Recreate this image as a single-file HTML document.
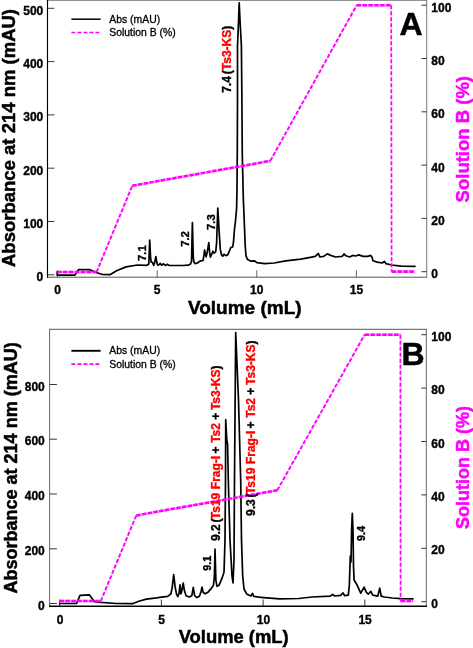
<!DOCTYPE html>
<html><head><meta charset="utf-8"><title>Chromatograms</title>
<style>
html,body{margin:0;padding:0;background:#fff;}
body{width:473px;height:648px;overflow:hidden;font-family:"Liberation Sans",sans-serif;}
svg{display:block;font-family:"Liberation Sans",sans-serif;will-change:transform;}
.tk{font-size:12px;font-weight:bold;fill:#000;stroke:#000;stroke-width:0.35;}
.lg{font-size:10.4px;fill:#000;stroke:#000;stroke-width:0.3;}
.pl{font-size:32px;font-weight:bold;fill:#000;stroke:#000;stroke-width:0.5;}
.ti{font-size:18.5px;font-weight:bold;stroke-width:0.5;}
.tx{font-size:19px;}
.pk{font-size:12px;font-weight:bold;fill:#000;white-space:pre;word-spacing:-0.6px;stroke-width:0.35;}
.pk2{font-size:11.3px;}
.pk3{font-size:10.8px;}
.mg{fill:none;stroke:#f0f;stroke-width:1.8;stroke-dasharray:4 2;stroke-linejoin:round;}
.tr{fill:none;stroke:#000;stroke-width:1.7;stroke-linejoin:round;stroke-linecap:round;}
</style></head><body>
<svg width="473" height="648" viewBox="0 0 473 648" xml:space="preserve">
<rect width="473" height="648" fill="#fff"/>
<line x1="47" y1="0.4" x2="427" y2="0.4" stroke="#777" stroke-width="0.9"/>
<line x1="47" y1="277.2" x2="427" y2="277.2" stroke="#555" stroke-width="1"/>
<line x1="426.7" y1="0" x2="426.7" y2="277.7" stroke="#777" stroke-width="1"/>
<line x1="47.5" y1="0" x2="47.5" y2="277.7" stroke="#000" stroke-width="1.15"/>
<line x1="47.5" y1="8.3" x2="54.4" y2="8.3" stroke="#222" stroke-width="0.9"/>
<text x="43.3" y="14.7" class="tk" text-anchor="end">500</text>
<line x1="47.5" y1="61.6" x2="54.4" y2="61.6" stroke="#222" stroke-width="0.9"/>
<text x="43.3" y="68.0" class="tk" text-anchor="end">400</text>
<line x1="47.5" y1="114.9" x2="54.4" y2="114.9" stroke="#222" stroke-width="0.9"/>
<text x="43.3" y="121.3" class="tk" text-anchor="end">300</text>
<line x1="47.5" y1="168.2" x2="54.4" y2="168.2" stroke="#222" stroke-width="0.9"/>
<text x="43.3" y="174.6" class="tk" text-anchor="end">200</text>
<line x1="47.5" y1="221.5" x2="54.4" y2="221.5" stroke="#222" stroke-width="0.9"/>
<text x="43.3" y="227.9" class="tk" text-anchor="end">100</text>
<line x1="47.5" y1="274.8" x2="54.4" y2="274.8" stroke="#222" stroke-width="0.9"/>
<text x="43.3" y="281.2" class="tk" text-anchor="end">0</text>
<line x1="421.5" y1="5.2" x2="426.7" y2="5.2" stroke="#222" stroke-width="0.9"/>
<text x="431.3" y="12.0" class="tk">100</text>
<line x1="421.5" y1="58.5" x2="426.7" y2="58.5" stroke="#222" stroke-width="0.9"/>
<text x="431.3" y="65.0" class="tk">80</text>
<line x1="421.5" y1="111.8" x2="426.7" y2="111.8" stroke="#222" stroke-width="0.9"/>
<text x="431.3" y="118.3" class="tk">60</text>
<line x1="421.5" y1="165.1" x2="426.7" y2="165.1" stroke="#222" stroke-width="0.9"/>
<text x="431.3" y="171.6" class="tk">40</text>
<line x1="421.5" y1="218.4" x2="426.7" y2="218.4" stroke="#222" stroke-width="0.9"/>
<text x="431.3" y="224.9" class="tk">20</text>
<line x1="421.5" y1="271.7" x2="426.7" y2="271.7" stroke="#222" stroke-width="0.9"/>
<text x="431.3" y="278.2" class="tk">0</text>
<line x1="57.5" y1="270.3" x2="57.5" y2="277.4" stroke="#555" stroke-width="0.9"/>
<text x="57.5" y="294.2" class="tk" text-anchor="middle">0</text>
<line x1="157.2" y1="270.3" x2="157.2" y2="277.4" stroke="#555" stroke-width="0.9"/>
<text x="157.2" y="294.2" class="tk" text-anchor="middle">5</text>
<line x1="256.8" y1="270.3" x2="256.8" y2="277.4" stroke="#555" stroke-width="0.9"/>
<text x="256.8" y="294.2" class="tk" text-anchor="middle">10</text>
<line x1="356.4" y1="270.3" x2="356.4" y2="277.4" stroke="#555" stroke-width="0.9"/>
<text x="356.4" y="294.2" class="tk" text-anchor="middle">15</text>
<line x1="49" y1="329.3" x2="426.7" y2="329.3" stroke="#555" stroke-width="1"/>
<line x1="49.6" y1="329" x2="49.6" y2="606.5" stroke="#666" stroke-width="1"/>
<line x1="426.3" y1="329" x2="426.3" y2="606.8" stroke="#666" stroke-width="1"/>
<line x1="49" y1="606.2" x2="427" y2="606.2" stroke="#000" stroke-width="1.4"/>
<line x1="49.6" y1="384.5" x2="56.9" y2="384.5" stroke="#222" stroke-width="0.9"/>
<text x="44.8" y="390.5" class="tk" text-anchor="end">800</text>
<line x1="49.6" y1="439.2" x2="56.9" y2="439.2" stroke="#222" stroke-width="0.9"/>
<text x="44.8" y="445.2" class="tk" text-anchor="end">600</text>
<line x1="49.6" y1="494.0" x2="56.9" y2="494.0" stroke="#222" stroke-width="0.9"/>
<text x="44.8" y="500.0" class="tk" text-anchor="end">400</text>
<line x1="49.6" y1="548.8" x2="56.9" y2="548.8" stroke="#222" stroke-width="0.9"/>
<text x="44.8" y="554.8" class="tk" text-anchor="end">200</text>
<line x1="49.6" y1="603.5" x2="56.9" y2="603.5" stroke="#222" stroke-width="0.9"/>
<text x="44.8" y="609.5" class="tk" text-anchor="end">0</text>
<line x1="421.3" y1="334.7" x2="426.3" y2="334.7" stroke="#222" stroke-width="0.9"/>
<text x="431.3" y="340.7" class="tk">100</text>
<line x1="421.3" y1="388.1" x2="426.3" y2="388.1" stroke="#222" stroke-width="0.9"/>
<text x="431.3" y="394.1" class="tk">80</text>
<line x1="421.3" y1="441.5" x2="426.3" y2="441.5" stroke="#222" stroke-width="0.9"/>
<text x="431.3" y="447.5" class="tk">60</text>
<line x1="421.3" y1="494.9" x2="426.3" y2="494.9" stroke="#222" stroke-width="0.9"/>
<text x="431.3" y="500.9" class="tk">40</text>
<line x1="421.3" y1="548.3" x2="426.3" y2="548.3" stroke="#222" stroke-width="0.9"/>
<text x="431.3" y="554.3" class="tk">20</text>
<line x1="421.3" y1="601.7" x2="426.3" y2="601.7" stroke="#222" stroke-width="0.9"/>
<text x="431.3" y="607.7" class="tk">0</text>
<line x1="59.7" y1="599.5" x2="59.7" y2="606.2" stroke="#222" stroke-width="0.9"/>
<text x="60.0" y="624" class="tk" text-anchor="middle">0</text>
<line x1="161.4" y1="599.5" x2="161.4" y2="606.2" stroke="#222" stroke-width="0.9"/>
<text x="161.7" y="624" class="tk" text-anchor="middle">5</text>
<line x1="263.1" y1="599.5" x2="263.1" y2="606.2" stroke="#222" stroke-width="0.9"/>
<text x="263.4" y="624" class="tk" text-anchor="middle">10</text>
<line x1="364.8" y1="599.5" x2="364.8" y2="606.2" stroke="#222" stroke-width="0.9"/>
<text x="365.1" y="624" class="tk" text-anchor="middle">15</text>
<polyline points="57.2,271.5 57.2,275.2 74.7,275.2 78.5,269.7 90.0,269.7 95.7,272.2 102.3,274.5 110.0,274.7 116.6,270.7 126.0,266.9 137.5,265.0 146.9,265.3 148.8,264.0 149.7,240.2 150.6,258.0 151.2,262.0 152.4,262.4 153.7,265.3 154.6,263.0 155.2,260.0 155.9,256.5 156.6,261.0 157.2,263.8 158.0,265.3 159.0,264.6 160.3,263.4 161.6,265.2 163.5,263.8 165.4,265.4 167.3,264.3 169.2,265.5 183.0,265.5 188.2,265.2 190.5,264.0 191.5,261.5 192.4,222.6 193.3,258.0 193.9,262.0 195.0,263.6 197.5,263.0 199.9,261.1 203.0,260.5 203.9,255.6 204.6,250.0 205.5,254.3 206.1,256.8 207.3,251.9 208.8,242.6 209.6,251.9 210.4,257.2 211.7,254.3 212.9,251.2 214.1,253.1 215.7,251.9 216.6,243.2 217.8,208.0 219.1,230.9 220.3,249.4 221.5,254.9 222.8,256.2 224.0,254.3 225.9,255.6 227.7,254.9 229.6,250.6 230.8,247.5 232.7,246.9 233.5,242.0 234.4,230.0 235.5,220.9 236.6,208.5 237.0,190.0 237.3,150.0 237.5,100.0 237.5,46.0 238.5,22.0 239.2,2.9 240.1,22.0 241.4,46.0 241.9,100.0 242.3,155.0 243.3,198.0 244.6,230.0 245.2,246.0 246.0,255.8 247.6,259.6 250.5,261.1 254.3,260.8 257.1,262.7 264.7,263.6 274.2,263.0 285.7,260.8 300.9,259.2 310.4,257.3 315.2,256.4 318.4,253.5 319.9,257.0 323.7,256.4 327.3,253.9 330.7,255.4 335.5,257.0 342.1,256.4 344.0,253.9 345.9,255.8 349.7,257.0 352.6,255.4 355.5,256.0 358.9,254.9 363.0,256.4 367.8,256.4 370.7,255.4 372.0,257.3 373.0,260.8 377.3,262.1 382.1,263.0 384.4,261.5 385.9,263.6 391.6,265.0 401.1,266.1 415.0,266.3" class="tr"/>
<line x1="57.2" y1="272" x2="96.6" y2="272" stroke="#f0f" stroke-opacity="0.4" stroke-width="2.7"/>
<line x1="57.2" y1="272" x2="96.6" y2="272" stroke="#f0f" stroke-width="2.7" stroke-dasharray="4.4 1.5"/>
<line x1="96.6" y1="272" x2="132.3" y2="185.7" stroke="#f0f" stroke-opacity="0.15" stroke-width="1.9"/>
<line x1="96.6" y1="272" x2="132.3" y2="185.7" stroke="#f0f" stroke-width="1.9" stroke-dasharray="4 1.9"/>
<line x1="132.3" y1="185.7" x2="270.3" y2="160.9" stroke="#f0f" stroke-opacity="0.4" stroke-width="2.5"/>
<line x1="132.3" y1="185.7" x2="270.3" y2="160.9" stroke="#f0f" stroke-width="2.5" stroke-dasharray="4.3 1.5"/>
<line x1="270.3" y1="160.9" x2="356.6" y2="5.3" stroke="#f0f" stroke-opacity="0.15" stroke-width="1.9"/>
<line x1="270.3" y1="160.9" x2="356.6" y2="5.3" stroke="#f0f" stroke-width="1.9" stroke-dasharray="4 1.9"/>
<line x1="356.6" y1="5.3" x2="391.2" y2="5.3" stroke="#f0f" stroke-opacity="0.4" stroke-width="2.6"/>
<line x1="356.6" y1="5.3" x2="391.2" y2="5.3" stroke="#f0f" stroke-width="2.6" stroke-dasharray="4.4 1.5"/>
<line x1="391.2" y1="5.3" x2="391.6" y2="271.6" stroke="#f0f" stroke-opacity="0.12" stroke-width="1.7"/>
<line x1="391.2" y1="5.3" x2="391.6" y2="271.6" stroke="#f0f" stroke-width="1.7" stroke-dasharray="4 2"/>
<line x1="391.6" y1="271.6" x2="414.5" y2="271.6" stroke="#f0f" stroke-opacity="0.4" stroke-width="2.7"/>
<line x1="391.6" y1="271.6" x2="414.5" y2="271.6" stroke="#f0f" stroke-width="2.7" stroke-dasharray="4.4 1.5"/>
<polyline points="59.6,603.5 76.6,603.5 80.0,595.3 89.3,594.8 94.4,601.7 100.8,602.4 116.0,603.5 132.5,603.7 138.8,601.2 146.4,599.1 156.6,597.9 161.3,597.2 167.7,596.3 170.9,593.8 172.1,588.1 173.7,574.5 175.1,586.8 176.6,594.4 177.8,596.7 179.1,593.1 180.0,584.9 180.9,593.8 181.6,591.9 183.2,583.0 184.4,590.6 186.1,595.7 189.3,597.0 191.8,595.7 193.3,587.4 194.6,595.7 196.9,597.6 199.4,596.3 200.9,591.9 202.0,587.1 203.2,592.5 205.1,593.8 208.3,591.9 211.5,588.1 213.4,585.5 214.4,576.2 215.0,549.2 215.9,580.3 217.0,586.3 219.0,585.3 222.0,578.2 224.0,572.2 225.0,540.0 225.5,480.0 225.7,419.7 226.8,440.0 227.6,444.7 228.3,480.0 230.0,540.0 232.0,576.0 233.0,583.0 234.0,560.0 234.5,480.0 235.7,332.6 238.5,400.0 240.7,480.0 241.5,540.0 242.7,576.0 244.0,589.0 247.0,594.3 251.0,596.0 252.5,593.3 253.7,596.3 259.0,597.2 263.6,597.6 279.7,598.9 298.8,598.5 312.1,597.0 330.2,596.2 332.6,594.3 334.5,596.0 340.7,595.4 343.0,592.8 344.5,595.7 348.3,595.1 349.3,585.6 350.3,556.0 351.0,562.0 351.6,530.0 352.3,513.3 353.0,530.0 353.5,566.0 354.1,580.0 356.9,584.7 360.7,593.2 364.1,587.1 366.4,592.3 368.3,594.2 370.8,591.3 372.7,595.1 377.8,596.1 379.7,588.1 381.2,596.1 384.5,597.0 392.1,598.0 400.6,598.6 413.0,598.9" class="tr"/>
<line x1="59.6" y1="601" x2="100.8" y2="601" stroke="#f0f" stroke-opacity="0.4" stroke-width="2.7"/>
<line x1="59.6" y1="601" x2="100.8" y2="601" stroke="#f0f" stroke-width="2.7" stroke-dasharray="4.4 1.5"/>
<line x1="100.8" y1="601" x2="136.3" y2="515.4" stroke="#f0f" stroke-opacity="0.15" stroke-width="1.9"/>
<line x1="100.8" y1="601" x2="136.3" y2="515.4" stroke="#f0f" stroke-width="1.9" stroke-dasharray="4 1.9"/>
<line x1="136.3" y1="515.4" x2="277.3" y2="490.3" stroke="#f0f" stroke-opacity="0.4" stroke-width="2.5"/>
<line x1="136.3" y1="515.4" x2="277.3" y2="490.3" stroke="#f0f" stroke-width="2.5" stroke-dasharray="4.3 1.5"/>
<line x1="277.3" y1="490.3" x2="364.6" y2="334.7" stroke="#f0f" stroke-opacity="0.15" stroke-width="1.9"/>
<line x1="277.3" y1="490.3" x2="364.6" y2="334.7" stroke="#f0f" stroke-width="1.9" stroke-dasharray="4 1.9"/>
<line x1="364.6" y1="334.7" x2="400.4" y2="334.7" stroke="#f0f" stroke-opacity="0.4" stroke-width="2.6"/>
<line x1="364.6" y1="334.7" x2="400.4" y2="334.7" stroke="#f0f" stroke-width="2.6" stroke-dasharray="4.4 1.5"/>
<line x1="400.4" y1="334.7" x2="400.6" y2="601" stroke="#f0f" stroke-opacity="0.12" stroke-width="1.7"/>
<line x1="400.4" y1="334.7" x2="400.6" y2="601" stroke="#f0f" stroke-width="1.7" stroke-dasharray="4 2"/>
<line x1="400.6" y1="601" x2="413" y2="601" stroke="#f0f" stroke-opacity="0.4" stroke-width="2.7"/>
<line x1="400.6" y1="601" x2="413" y2="601" stroke="#f0f" stroke-width="2.7" stroke-dasharray="4.4 1.5"/>
<line x1="71.4" y1="19.2" x2="100.6" y2="19.2" stroke="#000" stroke-width="1.5"/>
<line x1="71.4" y1="32.5" x2="100.6" y2="32.5" stroke="#f0f" stroke-width="1.6" stroke-dasharray="4 2"/>
<text x="109.3" y="22.8" class="lg">Abs (mAU)</text>
<text x="109.3" y="36.1" class="lg">Solution B (%)</text>
<line x1="71.4" y1="350.8" x2="100.6" y2="350.8" stroke="#000" stroke-width="1.9"/>
<line x1="71.4" y1="364.1" x2="100.6" y2="364.1" stroke="#f0f" stroke-width="1.6" stroke-dasharray="4 2"/>
<text x="109.3" y="354.4" class="lg">Abs (mAU)</text>
<text x="109.3" y="367.7" class="lg">Solution B (%)</text>
<text x="399.4" y="35" class="pl">A</text>
<text x="401.6" y="365.2" class="pl">B</text>
<text x="244.8" y="313.7" class="ti tx" text-anchor="middle" stroke="#000">Volume (mL)</text>
<text x="233.7" y="643.4" class="ti" style="font-size:18.4px" text-anchor="middle" stroke="#000">Volume (mL)</text>
<text transform="translate(15,138) rotate(-90)" class="ti" text-anchor="middle" stroke="#000">Absorbance at 214 nm (mAU)</text>
<text transform="translate(17,467.9) rotate(-90)" class="ti" style="font-size:18px" text-anchor="middle" stroke="#000">Absorbance at 214 nm (mAU)</text>
<text transform="translate(469,139.2) rotate(-90)" class="ti" text-anchor="middle" fill="#f0f" stroke="#f0f">Solution B (%)</text>
<text transform="translate(469,467.5) rotate(-90)" class="ti" style="font-size:18px" text-anchor="middle" fill="#f0f" stroke="#f0f">Solution B (%)</text>
<text transform="translate(146,261) rotate(-90)" class="pk pk2" stroke="#000">7.1</text>
<text transform="translate(188.9,246.8) rotate(-90)" class="pk pk2" stroke="#000">7.2</text>
<text transform="translate(214.5,230) rotate(-90)" class="pk pk2" stroke="#000">7.3</text>
<text transform="translate(230.8,92.8) rotate(-90)" class="pk" stroke="#000">7.4 <tspan dx="-0.8">(</tspan><tspan fill="#f00" stroke="#f00">Ts3-KS</tspan>)</text>
<text transform="translate(211.4,570.8) rotate(-90)" class="pk pk3" stroke="#000">9.1</text>
<text transform="translate(219.8,541.1) rotate(-90)" class="pk" stroke="#000">9.2 <tspan dx="-0.8">(</tspan><tspan fill="#f00" stroke="#f00" dx="-0.7">Ts19 </tspan><tspan fill="#f00" stroke="#f00" dx="0.8">Frag-I</tspan> <tspan dx="-0.5">+</tspan> <tspan fill="#f00" stroke="#f00" dx="1.0">Ts2</tspan> <tspan dx="0.5">+</tspan> <tspan fill="#f00" stroke="#f00">Ts3-KS</tspan>)</text>
<text transform="translate(255.3,516) rotate(-90)" class="pk" stroke="#000">9.3 <tspan dx="-0.8">(</tspan><tspan fill="#f00" stroke="#f00" dx="-0.7">Ts19 </tspan><tspan fill="#f00" stroke="#f00" dx="0.8">Frag-I</tspan> <tspan dx="-0.5">+</tspan> <tspan fill="#f00" stroke="#f00" dx="1.0">Ts2</tspan> <tspan dx="0.5">+</tspan> <tspan fill="#f00" stroke="#f00">Ts3-KS</tspan>)</text>
<text transform="translate(365.1,541.0) rotate(-90)" class="pk pk3" stroke="#000">9.4</text>
</svg>
</body></html>
